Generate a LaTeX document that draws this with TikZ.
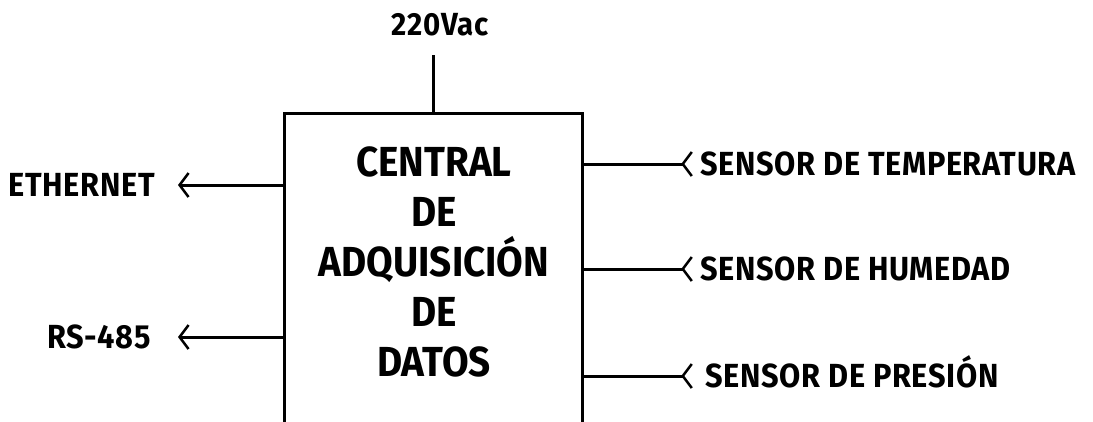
\documentclass[tikz,border=0pt]{standalone}
\usepackage{fontspec}
\setmainfont{Fira Sans}[FakeStretch=0.92]
\newfontfamily\tagfont{Fira Sans}[FakeStretch=0.92, LetterSpace=2]
\usetikzlibrary{arrows.meta}

\begin{document}
\begin{tikzpicture}[x=1pt, y=-1pt,
    wire/.style={line width=3pt},
    outlink/.style={wire, -{Straight Barb[length=9pt, width=24pt, line width=2.5pt]}, shorten >=23pt},
    sensorlink/.style={wire, -{Straight Barb[length=9pt, width=24pt, line width=2.5pt, reversed, sep=-5pt]}, shorten >=12pt},
    block/.style={draw, line width=3pt, minimum width=298pt, minimum height=312pt, inner sep=0pt},
    title/.style={align=center, inner sep=0pt, font=\fontsize{42}{50}\selectfont\bfseries},
    tag/.style={inner sep=0pt, text height=23pt, text depth=0pt, font=\tagfont\fontsize{33.4}{40}\selectfont\bfseries}]
    \useasboundingbox (0,0) rectangle (1093,421);
    % Central block and its title
    \node[block] (central) at (433.5,269) {};
    \node[title] (title) at (434,262) {CENTRAL\\DE\\ADQUISICIÓN\\DE\\DATOS};
    % Supply, outputs and sensors
    \node[tag, text height=22pt, font=\tagfont\fontsize{32}{38}\selectfont\bfseries] (vac) at (440,24) {220Vac};
    \node[tag, anchor=east] (ethernet) at (155,185) {ETHERNET};
    \node[tag, anchor=east] (rs485) at (151,337) {RS-485};
    \node[tag, anchor=west] (temp) at (700,164) {SENSOR DE TEMPERATURA};
    \node[tag, anchor=west] (hum) at (700,269) {SENSOR DE HUMEDAD};
    \node[tag, anchor=west] (pres) at (705,376) {SENSOR DE PRESIÓN};
    % Connectors
    \draw[wire, shorten >=20pt] (central.north) -- (central.north |- vac.south);
    \draw[outlink] (central.west |- ethernet) -- (ethernet.east);
    \draw[outlink, shorten >=27pt] (central.west |- rs485) -- (rs485.east);
    \draw[sensorlink] (central.east |- temp) -- (temp.west);
    \draw[sensorlink] (central.east |- hum) -- (hum.west);
    \draw[sensorlink, shorten >=17pt] (central.east |- pres) -- (pres.west);
\end{tikzpicture}
\end{document}
